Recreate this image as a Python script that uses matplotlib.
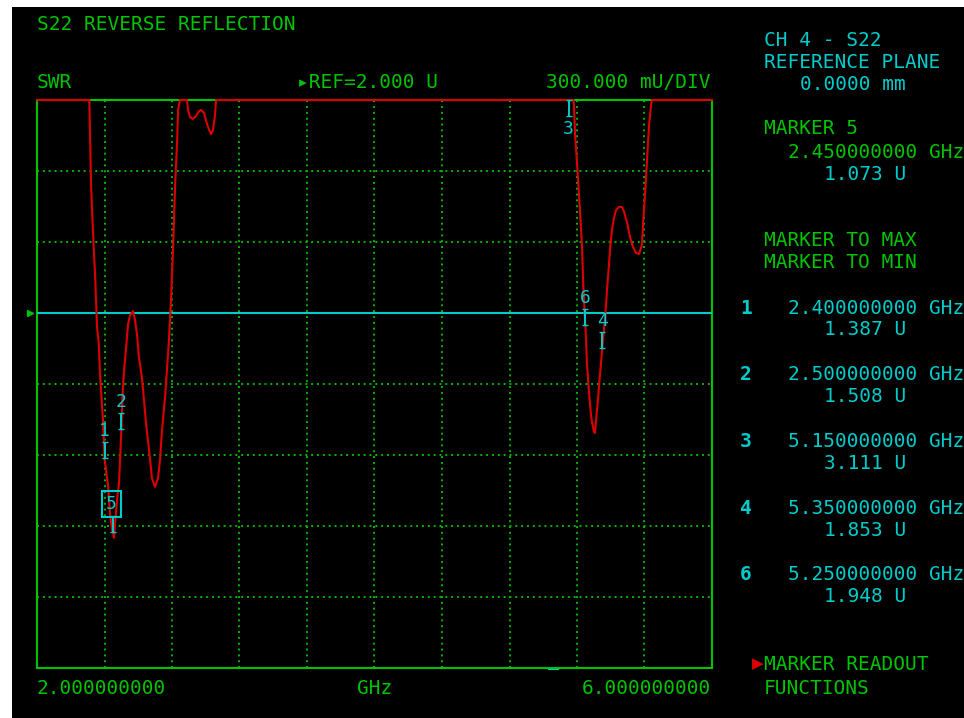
import numpy as np
import matplotlib
matplotlib.use("Agg")
import matplotlib.pyplot as plt
from matplotlib.patches import Rectangle

# ---------------- data ----------------
freq_ghz = [2.00, 2.10, 2.20, 2.28, 2.310, 2.314, 2.320, 2.326, 2.338, 2.344,
            2.356, 2.366, 2.373, 2.385, 2.391, 2.400, 2.409, 2.421, 2.427, 2.433,
            2.445, 2.450, 2.456, 2.462, 2.474, 2.486, 2.492, 2.500, 2.506, 2.516,
            2.527, 2.539, 2.551, 2.569, 2.581, 2.593, 2.604, 2.622, 2.634, 2.646,
            2.664, 2.681, 2.699, 2.717, 2.729, 2.741, 2.759, 2.770, 2.782, 2.794,
            2.806, 2.818, 2.830, 2.836, 2.847, 2.871, 2.889, 2.895, 2.907, 2.924,
            2.942, 2.960, 2.972, 2.990, 3.001, 3.013, 3.031, 3.043, 3.055, 3.061,
            3.10, 3.40, 3.80, 4.20, 4.60, 5.00, 5.10, 5.15, 5.180, 5.182,
            5.188, 5.200, 5.206, 5.218, 5.230, 5.236, 5.247, 5.250, 5.259, 5.271,
            5.283, 5.289, 5.301, 5.307, 5.313, 5.324, 5.336, 5.350, 5.360, 5.372,
            5.378, 5.390, 5.396, 5.407, 5.419, 5.431, 5.449, 5.467, 5.479, 5.496,
            5.514, 5.532, 5.550, 5.567, 5.585, 5.591, 5.603, 5.615, 5.627, 5.639,
            5.644, 5.70, 5.80, 5.90, 6.00]
swr = [4.20, 3.80, 3.40, 3.10, 2.95, 2.760, 2.549, 2.439, 2.245, 2.165,
       1.937, 1.873, 1.747, 1.611, 1.548, 1.387, 1.337, 1.273, 1.210, 1.147,
       1.085, 1.073, 1.050, 1.104, 1.210, 1.280, 1.379, 1.508, 1.640, 1.759,
       1.844, 1.949, 1.990, 2.008, 1.970, 1.907, 1.814, 1.725, 1.632, 1.535,
       1.421, 1.303, 1.265, 1.303, 1.379, 1.506, 1.645, 1.759, 1.886, 2.055,
       2.266, 2.532, 2.718, 2.858, 3.000, 3.100, 2.920, 2.858, 2.828, 2.820,
       2.832, 2.853, 2.858, 2.845, 2.815, 2.786, 2.756, 2.773, 2.837, 2.950,
       3.30, 3.70, 4.40, 5.10, 4.80, 3.60, 3.30, 3.111, 2.950, 2.879,
       2.760, 2.634, 2.570, 2.427, 2.279, 2.139, 1.980, 1.948, 1.789, 1.666,
       1.569, 1.540, 1.497, 1.493, 1.548, 1.632, 1.738, 1.853, 1.930, 2.030,
       2.100, 2.210, 2.270, 2.351, 2.401, 2.435, 2.448, 2.448, 2.427, 2.384,
       2.321, 2.279, 2.254, 2.249, 2.287, 2.372, 2.499, 2.646, 2.794, 2.879,
       2.950, 3.30, 3.90, 4.30, 4.60]

ref_value = 2.0
scale_per_div = 0.3
start_ghz, stop_ghz = 2.0, 6.0

marker_ids = ["1", "2", "3", "4", "5", "6"]
marker_freq = [2.40, 2.50, 5.15, 5.35, 2.45, 5.25]
marker_swr = [1.387, 1.508, 3.111, 1.853, 1.073, 1.948]
active_marker = "5"
readout_order = ["1", "2", "3", "4", "6"]

# ---------------- styling ----------------
W, H = 964, 718
BLACK = "#000000"
GREEN = "#00c400"
GRIDG = "#00b400"
CYAN = "#00cccc"
RED = "#dd0000"
MONO = "DejaVu Sans Mono"
FS = 14

fig = plt.figure(figsize=(W / 100, H / 100), dpi=100)
fig.patch.set_facecolor("white")
fig.add_artist(Rectangle((12 / W, 0), 1 - 12 / W, 1 - 7 / H, transform=fig.transFigure,
                         facecolor=BLACK, edgecolor="none", zorder=0))


def fx(x):
    return x / W


def fy(y):
    return 1 - y / H


ax = fig.add_axes([fx(37), fy(668), 675 / W, 568 / H])
ax.set_facecolor(BLACK)
top = ref_value + 3 * scale_per_div
bottom = ref_value - 5 * scale_per_div
ax.set_xlim(start_ghz, stop_ghz)
ax.set_ylim(bottom, top)
ax.set_xticks(np.linspace(start_ghz, stop_ghz, 11))
ax.set_yticks(np.linspace(bottom, top, 9))
ax.tick_params(length=0, labelbottom=False, labelleft=False)
ax.grid(True, color=GRIDG, linestyle=(0, (1, 2)), linewidth=1.4)
for s in ax.spines.values():
    s.set_color(GREEN)
    s.set_linewidth(1.5)

# reference line
ax.axhline(ref_value, color=CYAN, lw=1.5, zorder=3)
ax.plot([-0.011], [ref_value], marker=">", color=GREEN, markersize=5,
        transform=ax.get_yaxis_transform(), clip_on=False)

# trace
disp = np.minimum(np.array(swr), top)
ax.plot(freq_ghz, disp, color=RED, lw=1.5, zorder=4, clip_on=False)

# markers
tick = 16 / 71 * scale_per_div
for mid, f, v in zip(marker_ids, marker_freq, marker_swr):
    if v > top:
        y0, y1 = top - tick, top
        ax.vlines(f, y0, y1, color=CYAN, lw=1.4, zorder=5, clip_on=False)
        ax.plot([f, f], [y0, y1], ls="none", marker="_", color=CYAN, ms=5, zorder=5, clip_on=False)
        ax.annotate(mid, (f, y0), xytext=(0, -9), textcoords="offset points",
                    ha="center", va="center", color=CYAN, fontsize=13, family=MONO, zorder=6)
    else:
        y0, y1 = v, v + tick
        ax.vlines(f, y0, y1, color=CYAN, lw=1.4, zorder=5)
        ax.plot([f, f], [y0, y1], ls="none", marker="_", color=CYAN, ms=5, zorder=5)
        if mid == active_marker:
            ax.annotate(mid, (f, y1), xytext=(-1, 9), textcoords="offset points",
                        ha="center", va="center", color=CYAN, fontsize=13, family=MONO, zorder=6,
                        bbox=dict(boxstyle="square,pad=0.22", facecolor="none", edgecolor=CYAN, lw=1.5))
        else:
            ax.annotate(mid, (f, y1), xytext=(0, 8), textcoords="offset points",
                        ha="center", va="center", color=CYAN, fontsize=13, family=MONO, zorder=6)

# small cyan indicator on bottom edge
ax.plot([0.758, 0.772], [-0.002, -0.002], color=CYAN, lw=1.5, transform=ax.transAxes, clip_on=False)


def t(x, y, s, color=GREEN, ha="left", **kw):
    fig.text(fx(x), fy(y), s, color=color, ha=ha, va="center", family=MONO, fontsize=FS, **kw)


# header texts
t(37, 25, "S22 REVERSE REFLECTION")
t(37, 82, "SWR")
t(297, 82, "\u25b8REF=2.000 U")
t(711, 82, "300.000 mU/DIV", ha="right")

# bottom
t(37, 688, f"{start_ghz:.9f}")
t(357, 688, "GHz")
t(711, 688, f"{stop_ghz:.9f}", ha="right")

# right panel
t(764, 41, "CH 4 - S22", CYAN)
t(764, 63, "REFERENCE PLANE", CYAN)
t(800, 85, "0.0000 mm", CYAN)
ai = marker_ids.index(active_marker)
t(764, 129, f"MARKER {active_marker}")
t(788, 152, f"{marker_freq[ai]:.9f} GHz")
t(824, 174, f"{marker_swr[ai]:.3f} U", CYAN)
t(764, 241, "MARKER TO MAX")
t(764, 263, "MARKER TO MIN")

y = 308
for mid in readout_order:
    i = marker_ids.index(mid)
    t(740, y, mid, CYAN, fontweight="bold")
    t(788, y, f"{marker_freq[i]:.9f} GHz", CYAN)
    t(824, y + 22, f"{marker_swr[i]:.3f} U", CYAN)
    y += 66.75

fig.text(fx(764), fy(664), "\u25b6", color=RED, ha="right", va="center", fontsize=11, family="DejaVu Sans")
t(764, 664, "MARKER READOUT")
t(764, 688, "FUNCTIONS")

fig.savefig("out.png", dpi=100, facecolor=fig.get_facecolor())
